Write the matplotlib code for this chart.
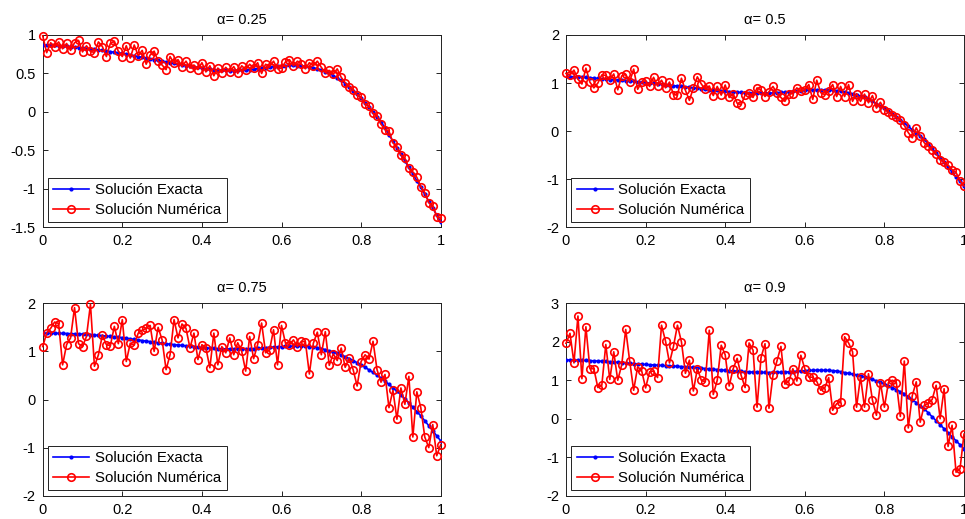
import numpy as np
import matplotlib
matplotlib.use("Agg")
import matplotlib.pyplot as plt

plt.rcParams['font.family'] = ['Liberation Sans', 'DejaVu Sans']
plt.rcParams['axes.unicode_minus'] = False

x = np.linspace(0, 1, 101)

titles = ["α= 0.25", "α= 0.5", "α= 0.75", "α= 0.9"]

exact_025 = [0.870,0.868,0.866,0.864,0.862,0.860,0.855,0.849,0.843,0.836,
0.830,0.824,0.818,0.812,0.806,0.800,0.792,0.784,0.776,0.768,
0.760,0.750,0.740,0.730,0.720,0.710,0.700,0.690,0.680,0.670,
0.660,0.650,0.640,0.630,0.620,0.610,0.602,0.594,0.586,0.578,
0.570,0.563,0.557,0.551,0.545,0.541,0.539,0.538,0.538,0.539,
0.541,0.545,0.550,0.556,0.562,0.568,0.575,0.582,0.589,0.595,
0.599,0.602,0.604,0.604,0.602,0.598,0.592,0.584,0.574,0.562,
0.548,0.525,0.500,0.472,0.442,0.410,0.368,0.324,0.278,0.230,
0.180,0.122,0.062,0.000,-0.062,-0.125,-0.210,-0.295,-0.380,-0.465,
-0.550,-0.636,-0.722,-0.808,-0.894,-0.980,-1.070,-1.160,-1.250,-1.340,
-1.430]
num_025 = [0.99,0.77,0.90,0.84,0.91,0.82,0.89,0.80,0.90,0.93,
0.78,0.86,0.79,0.77,0.91,0.85,0.72,0.89,0.92,0.79,
0.72,0.86,0.70,0.87,0.73,0.80,0.62,0.74,0.79,0.66,
0.61,0.55,0.72,0.63,0.68,0.59,0.66,0.57,0.61,0.55,
0.64,0.52,0.60,0.47,0.57,0.51,0.58,0.52,0.59,0.50,
0.60,0.55,0.62,0.57,0.64,0.50,0.62,0.59,0.66,0.56,
0.57,0.65,0.68,0.60,0.66,0.62,0.56,0.64,0.60,0.66,
0.58,0.51,0.54,0.49,0.56,0.45,0.38,0.33,0.29,0.22,
0.19,0.10,0.08,-0.02,-0.05,-0.16,-0.23,-0.25,-0.40,-0.46,
-0.56,-0.60,-0.73,-0.78,-0.85,-0.97,-1.05,-1.18,-1.22,-1.36,
-1.38]

exact_05 = [1.140,1.136,1.132,1.128,1.124,1.120,1.112,1.104,1.096,1.088,
1.080,1.074,1.068,1.062,1.056,1.050,1.042,1.034,1.026,1.018,
1.010,1.001,0.992,0.983,0.974,0.965,0.956,0.947,0.938,0.929,
0.920,0.911,0.902,0.893,0.884,0.875,0.866,0.857,0.848,0.839,
0.830,0.823,0.816,0.810,0.805,0.800,0.797,0.794,0.792,0.790,
0.790,0.792,0.795,0.800,0.805,0.810,0.818,0.826,0.834,0.842,
0.850,0.855,0.858,0.860,0.861,0.860,0.856,0.850,0.842,0.832,
0.820,0.800,0.778,0.754,0.728,0.700,0.660,0.620,0.575,0.528,
0.480,0.420,0.360,0.300,0.235,0.170,0.100,0.030,-0.040,-0.100,
-0.170,-0.265,-0.360,-0.455,-0.550,-0.650,-0.750,-0.850,-0.950,-1.045,
-1.140]
num_05 = [1.20,1.17,1.27,1.08,0.98,1.31,1.02,0.90,1.00,1.17,
1.16,1.07,1.19,0.86,1.15,1.18,1.03,1.29,0.87,1.02,
1.05,0.93,1.12,0.94,1.06,0.90,1.02,0.76,0.75,1.10,
0.85,0.64,0.90,1.13,0.98,0.87,0.94,0.74,0.93,0.75,
0.96,0.70,0.78,0.58,0.55,0.75,0.80,0.70,0.90,0.86,
0.72,0.82,0.93,0.79,0.70,0.62,0.77,0.78,0.90,0.83,
0.86,0.97,0.66,1.06,0.80,0.76,0.84,0.97,0.72,0.93,
0.72,0.97,0.62,0.78,0.62,0.77,0.59,0.74,0.48,0.60,
0.45,0.40,0.34,0.29,0.24,0.12,-0.03,-0.14,0.07,-0.10,
-0.24,-0.31,-0.40,-0.47,-0.59,-0.64,-0.71,-0.80,-0.86,-1.03,
-1.14]

exact_075 = [1.380,1.379,1.378,1.377,1.376,1.374,1.372,1.369,1.366,1.363,
1.360,1.354,1.348,1.341,1.334,1.327,1.319,1.311,1.302,1.294,
1.285,1.274,1.262,1.250,1.238,1.226,1.214,1.202,1.190,1.180,
1.170,1.160,1.150,1.141,1.132,1.124,1.116,1.108,1.100,1.090,
1.080,1.074,1.068,1.063,1.059,1.055,1.052,1.050,1.049,1.049,
1.050,1.052,1.055,1.059,1.064,1.070,1.076,1.082,1.088,1.094,
1.100,1.104,1.107,1.109,1.110,1.110,1.107,1.101,1.093,1.080,
1.060,1.037,1.012,0.986,0.959,0.930,0.891,0.851,0.809,0.765,
0.720,0.669,0.616,0.562,0.506,0.450,0.383,0.313,0.243,0.172,
0.100,0.014,-0.073,-0.160,-0.250,-0.340,-0.442,-0.545,-0.650,-0.755,
-0.860]
num_075 = [1.10,1.38,1.48,1.61,1.58,0.72,1.14,1.28,1.91,1.16,
1.10,1.31,1.98,0.69,0.93,1.34,1.14,1.12,1.52,1.16,
1.66,0.79,1.17,1.13,1.38,1.44,1.48,1.54,1.00,1.50,
1.24,0.62,0.93,1.66,1.28,1.57,1.48,1.07,1.38,0.83,
1.14,1.07,0.66,1.38,0.72,1.10,0.97,1.28,0.93,1.18,
1.00,0.59,1.31,0.85,1.14,1.59,0.97,1.03,1.45,0.72,
1.54,1.17,1.14,1.24,1.10,1.21,1.20,0.53,1.17,1.40,
0.93,1.41,0.71,0.95,0.81,1.07,0.67,0.86,0.62,0.28,
0.79,0.93,0.84,1.21,0.62,0.36,0.52,-0.17,0.19,-0.41,
0.24,-0.10,0.48,-0.78,0.16,-0.17,-0.78,-1.00,-0.52,-1.17,
-0.94]

exact_09 = [1.530,1.527,1.524,1.521,1.518,1.515,1.510,1.505,1.500,1.495,
1.490,1.482,1.474,1.466,1.458,1.450,1.442,1.434,1.426,1.418,
1.410,1.404,1.398,1.392,1.386,1.380,1.374,1.368,1.362,1.356,
1.350,1.341,1.332,1.323,1.314,1.305,1.296,1.287,1.278,1.269,
1.260,1.252,1.244,1.237,1.230,1.224,1.218,1.213,1.208,1.204,
1.202,1.201,1.202,1.204,1.208,1.213,1.219,1.226,1.234,1.242,
1.250,1.255,1.259,1.261,1.262,1.260,1.256,1.250,1.240,1.224,
1.200,1.180,1.158,1.135,1.112,1.090,1.056,1.020,0.984,0.947,
0.910,0.860,0.808,0.756,0.703,0.650,0.575,0.498,0.420,0.341,
0.260,0.156,0.052,-0.052,-0.156,-0.260,-0.364,-0.468,-0.572,-0.676,
-0.780]
num_09 = [1.96,2.22,1.45,2.67,1.04,2.39,1.30,1.30,0.81,0.87,
1.93,1.02,1.74,1.00,1.40,2.32,1.50,0.74,1.35,1.25,
0.80,1.22,1.24,1.07,2.43,2.02,1.45,1.88,2.43,2.00,
1.18,1.52,0.72,1.30,1.00,0.96,2.30,0.63,1.00,1.91,
1.66,0.85,1.30,1.57,1.13,0.81,1.97,1.78,0.30,1.59,
1.95,0.27,1.13,1.50,1.88,0.90,0.98,1.30,0.98,1.65,
1.30,1.08,1.08,0.97,0.74,0.80,1.07,0.22,0.39,0.43,
2.13,1.97,1.74,0.30,1.09,0.30,1.17,0.48,0.09,0.94,
0.30,0.94,1.00,0.94,0.06,1.50,-0.24,0.60,0.96,-0.09,
0.35,0.40,0.50,0.87,0.00,0.78,-0.72,-0.17,-1.39,-1.30,
-0.40]

exact_all = [exact_025, exact_05, exact_075, exact_09]
num_all = [num_025, num_05, num_075, num_09]
ylims = [(-1.5, 1), (-2, 2), (-2, 2), (-2, 3)]
yticks = [[-1.5, -1, -0.5, 0, 0.5, 1], [-2, -1, 0, 1, 2], [-2, -1, 0, 1, 2], [-2, -1, 0, 1, 2, 3]]
yticklabels = [["-1.5", "-1", "-0.5", "0", "0.5", "1"], ["-2", "-1", "0", "1", "2"],
               ["-2", "-1", "0", "1", "2"], ["-2", "-1", "0", "1", "2", "3"]]
xticks = [0, 0.2, 0.4, 0.6, 0.8, 1]
xticklabels = ["0", "0.2", "0.4", "0.6", "0.8", "1"]

W, H = 965, 519
fig = plt.figure(figsize=(W / 100, H / 100), dpi=100)
fig.patch.set_facecolor('white')

boxes = [(42.7, 35, 440.7, 227.3), (566, 35, 964, 227.3),
         (42.7, 303.3, 440.7, 495.7), (566, 303.3, 964, 495.7)]

for i in range(4):
    l, t, r, b = boxes[i]
    ax = fig.add_axes([l / W, 1 - b / H, (r - l) / W, (b - t) / H])
    ax.plot(x, exact_all[i], '.-', color='#0000ff', lw=1.2, ms=4.0,
            label='Solución Exacta', zorder=3)
    ax.plot(x, num_all[i], 'o-', color='#ff0000', lw=1.2, ms=5.4, mfc='none',
            mew=1.2, label='Solución Numérica', zorder=4, clip_on=False)
    ax.set_xlim(0, 1)
    ax.set_ylim(*ylims[i])
    ax.set_xticks(xticks)
    ax.set_xticklabels(xticklabels)
    ax.set_yticks(yticks[i])
    ax.set_yticklabels(yticklabels[i])
    ax.tick_params(direction='in', top=True, right=True, length=3.5, width=0.6,
                   labelsize=10.5, pad=5, colors='black')
    for s in ax.spines.values():
        s.set_linewidth(0.7)
        s.set_color('#222222')
    ax.set_title(titles[i], fontsize=10.5, pad=8)
    leg = ax.legend(loc='lower left', fontsize=10.8, fancybox=False, framealpha=1,
                    edgecolor='#222222', borderaxespad=0.35, handlelength=2.4,
                    borderpad=0.35, labelspacing=0.4, handletextpad=0.4)
    leg.get_frame().set_linewidth(0.7)

fig.savefig('out.png', dpi=100, facecolor='white')
